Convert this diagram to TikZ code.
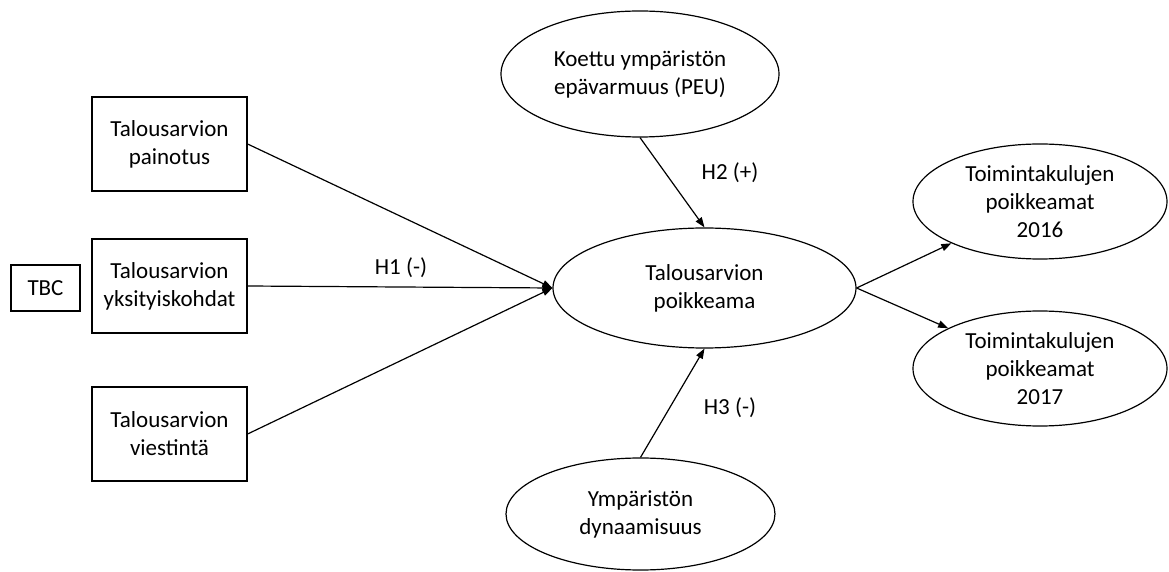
\documentclass[tikz,border=0pt]{standalone}
\usepackage{fontspec}
\setmainfont{Carlito}
\usetikzlibrary{shapes.geometric,arrows.meta}
\begin{document}
\begin{tikzpicture}[x=0.5pt,y=-0.5pt,
  every node/.style={font=\fontsize{11.5pt}{14pt}\selectfont, align=center, inner sep=0pt},
  varbox/.style={draw, line width=0.6pt, minimum width=77.5pt, minimum height=47pt},
  latent/.style={draw, ellipse, line width=0.6pt},
  link/.style={line width=0.6pt, -{Triangle[length=5pt,width=3.6pt]}},
  hyp/.style={font=\fontsize{11.5pt}{14pt}\selectfont}]
\useasboundingbox (0,0) rectangle (1169,572);

% budget variables (left column)
\node[varbox] (wt)  at (169.5,144) {Talousarvion\\painotus};
\node[varbox] (det) at (169.5,286) {Talousarvion\\yksityiskohdat};
\node[varbox] (com) at (169.5,434) {Talousarvion\\viestintä};
\node[draw, line width=0.6pt, minimum width=34.5pt, minimum height=23pt] (tbc) at (45.5,288) {TBC};

% latent constructs
\node[latent, minimum width=139pt, minimum height=63pt] (peu) at (640,74) {Koettu ympäristön\\epävarmuus (PEU)};
\node[latent, minimum width=151.5pt, minimum height=60pt] (dev) at (704.5,288) {Talousarvion\\poikkeama};
\node[latent, minimum width=134.5pt, minimum height=56pt] (dyn) at (640.5,514) {Ympäristön\\dynaamisuus};
\node[latent, minimum width=127pt, minimum height=57.5pt] (op16) at (1040,201.5) {Toimintakulujen\\poikkeamat\\2016};
\node[latent, minimum width=127pt, minimum height=57.5pt] (op17) at (1040,368.5) {Toimintakulujen\\poikkeamat\\2017};

% paths
\draw[link] (wt.east)  -- (dev.west);
\draw[link] (det.east) -- (dev.west);
\draw[link] (com.east) -- (dev.west);
\draw[link] (peu.south) -- (dev.north);
\draw[link] (dyn.north) -- (dev.south);
\draw[link] (dev.east) -- (op16);
\draw[link] (dev.east) -- (op17);

% hypothesis labels
\node[hyp] (h1) at (401,268) {H1 (-)};
\node[hyp] (h2) at (730,173) {H2 (+)};
\node[hyp] (h3) at (730,408) {H3 (-)};
\end{tikzpicture}
\end{document}
